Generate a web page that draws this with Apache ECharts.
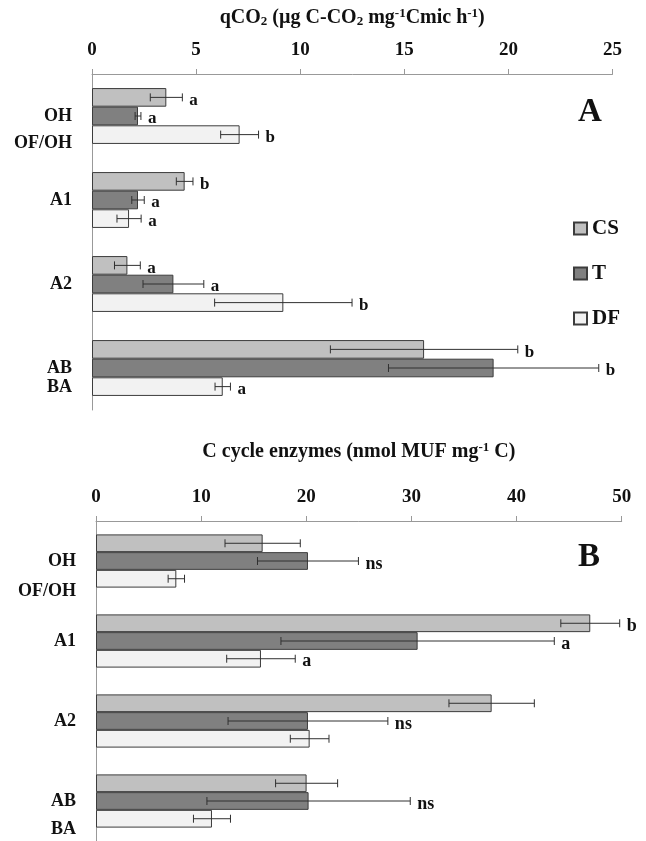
<!DOCTYPE html>
<html><head><meta charset="utf-8">
<script src="https://cdn.jsdelivr.net/npm/echarts@6/dist/echarts.min.js"></script>
<style>html,body{margin:0;padding:0;background:#fff}#c{width:646px;height:841px}</style>
</head><body><div id="c"></div>
<script>
// ---------- data ----------
const categories = ['OH\nOF/OH', 'A1', 'A2', 'AB\nBA'];
const seriesNames = ['CS', 'T', 'DF'];

// Panel A : qCO2
const qco2Ticks = [0, 5, 10, 15, 20, 25];
const qco2CS  = [3.57, 4.45, 1.70, 15.95];
const qco2CSErr = [0.77, 0.40, 0.62, 4.50];
const qco2CSLetters = ['a', 'b', 'a', 'b'];
const qco2T   = [2.21, 2.21, 3.91, 19.29];
const qco2TErr = [0.14, 0.30, 1.46, 5.05];
const qco2TLetters = ['a', 'a', 'a', 'b'];
const qco2DF  = [7.09, 1.78, 9.19, 6.28];
const qco2DFErr = [0.91, 0.58, 3.30, 0.37];
const qco2DFLetters = ['b', 'a', 'b', 'a'];

// Panel B : C cycle enzymes
const enzTicks = [0, 10, 20, 30, 40, 50];
const enzCS  = [15.85, 47.01, 37.63, 20.03];
const enzCSErr = [3.58, 2.80, 4.06, 2.95];
const enzCSLetters = ['', 'b', '', ''];
const enzT   = [20.16, 30.59, 20.16, 20.22];
const enzTErr = [4.80, 13.00, 7.60, 9.67];
const enzTLetters = ['ns', 'a', 'ns', 'ns'];
const enzDF  = [7.64, 15.69, 20.32, 11.03];
const enzDFErr = [0.78, 3.26, 1.84, 1.76];
const enzDFLetters = ['', 'a', '', ''];

// ---------- styling ----------
const FONT = 'Liberation Serif, Times New Roman, serif';
const colors = ['#c0c0c0', '#808080', '#f2f2f2'];
const GAP = 0.335;

const panels = [
  {vals: [qco2CS, qco2T, qco2DF], errs: [qco2CSErr, qco2TErr, qco2DFErr],
   letters: [qco2CSLetters, qco2TLetters, qco2DFLetters], ticks: qco2Ticks, letterSize: 17},
  {vals: [enzCS, enzT, enzDF], errs: [enzCSErr, enzTErr, enzDFErr],
   letters: [enzCSLetters, enzTLetters, enzDFLetters], ticks: enzTicks, letterSize: 18}
];

function errRender(sIdx, letters, fontSize) {
  return function (params, api) {
    const cat = api.value(0), val = api.value(1), err = api.value(2);
    const c = api.coord([val, cat]);
    const band = api.size([0, 1])[1];
    const total = band * (1 - GAP);
    const bw = total / 3;
    const y = c[1] - total / 2 + bw * (sIdx + 0.5);
    const x1 = api.coord([val - err, cat])[0];
    const x2 = api.coord([val + err, cat])[0];
    const h = 4;
    const ls = {stroke: '#303030', lineWidth: 1};
    const children = [
      {type: 'line', shape: {x1: x1, y1: y, x2: x2, y2: y}, style: ls},
      {type: 'line', shape: {x1: x1, y1: y - h, x2: x1, y2: y + h}, style: ls},
      {type: 'line', shape: {x1: x2, y1: y - h, x2: x2, y2: y + h}, style: ls}
    ];
    const t = letters[params.dataIndex];
    if (t) {
      children.push({type: 'text', style: {text: t, x: x2 + 7, y: y + 3, align: 'left', verticalAlign: 'middle',
        fontSize: fontSize, fontWeight: 'bold', fontFamily: FONT, fill: '#111'}});
    }
    return {type: 'group', children: children};
  };
}

// category label formatting (line spacing per panel / category)
const lineHeights = [[27, 0, 0, 19], [30, 0, 0, 28]];
function catFormatter(p) {
  return function (value, idx) {
    const lines = value.split('\n');
    if (lines.length === 1) return '{l0|' + lines[0] + '}';
    const lh = lineHeights[p][idx];
    const key = 'h' + lh;
    return '{' + key + '| }\n{' + key + '|' + lines[0] + '}\n{' + key + '|' + lines[1] + '}';
  };
}
const catRich = {l0: {fontSize: 18, fontWeight: 'bold', fontFamily: FONT, color: '#111'}};
[27, 19, 30, 28].forEach(function (lh) {
  catRich['h' + lh] = {fontSize: 18, fontWeight: 'bold', fontFamily: FONT, color: '#111', lineHeight: lh};
});

const titleRich = {
  n: {fontSize: 20, fontWeight: 'bold', fontFamily: FONT, color: '#111'},
  sub: {fontSize: 13, fontWeight: 'bold', fontFamily: FONT, color: '#111', verticalAlign: 'bottom', padding: [8, 0, 0, 0]},
  sup: {fontSize: 13, fontWeight: 'bold', fontFamily: FONT, color: '#111', verticalAlign: 'top', padding: [0, 0, 8, 0]}
};

const grids = [
  {left: 92, top: 74, width: 520.5, height: 336},
  {left: 96, top: 521, width: 525.7, height: 324}
];
const axisNames = [
  '{n|qCO}{sub|2}{n| (µg C-CO}{sub|2}{n| mg}{sup|-1}{n|Cmic h}{sup|-1}{n|)}',
  '{n|C cycle enzymes (nmol MUF mg}{sup|-1}{n| C)}'
];
const nameGaps = [46, 59];

const xAxis = [], yAxis = [], series = [];
panels.forEach(function (pn, p) {
  const tk = pn.ticks;
  xAxis.push({
    gridIndex: p, type: 'value', position: 'top',
    min: tk[0], max: tk[tk.length - 1], interval: tk[1] - tk[0],
    name: axisNames[p], nameLocation: 'middle', nameGap: nameGaps[p],
    nameTextStyle: {rich: titleRich},
    axisLine: {show: true, lineStyle: {color: '#999', width: 1}},
    axisTick: {show: true, length: 5, lineStyle: {color: '#999'}},
    splitLine: {show: false},
    axisLabel: {margin: 14, fontSize: 19, fontWeight: 'bold', fontFamily: FONT, color: '#111',
      formatter: function (v) { return String(v); }}
  });
  yAxis.push({
    gridIndex: p, type: 'category', data: categories, inverse: true,
    axisLine: {show: true, lineStyle: {color: '#999', width: 1}},
    axisTick: {show: false},
    axisLabel: {margin: 20, formatter: catFormatter(p), rich: catRich}
  });
  pn.vals.forEach(function (arr, s) {
    series.push({
      type: 'bar', name: seriesNames[s], xAxisIndex: p, yAxisIndex: p,
      data: arr, barGap: '0%', barCategoryGap: (GAP * 100) + '%',
      itemStyle: {color: colors[s], borderColor: '#3c3c3c', borderWidth: 1},
      emphasis: {disabled: true}, animation: false
    });
  });
  pn.vals.forEach(function (arr, s) {
    series.push({
      type: 'custom', name: 'err' + p + s, xAxisIndex: p, yAxisIndex: p,
      clip: false, z: 5, animation: false,
      encode: {x: 1, y: 0},
      data: arr.map(function (v, i) { return [i, v, pn.errs[s][i]]; }),
      renderItem: errRender(s, pn.letters[s], pn.letterSize)
    });
  });
});

const chart = echarts.init(document.getElementById('c'), null, {renderer: 'canvas'});
chart.setOption({
  backgroundColor: '#fff',
  animation: false,
  grid: grids,
  xAxis: xAxis,
  yAxis: yAxis,
  legend: {
    data: seriesNames, orient: 'vertical', left: 568, top: 213,
    itemWidth: 13, itemHeight: 12, itemGap: 24, icon: 'rect',
    textStyle: {fontSize: 21, fontWeight: 'bold', fontFamily: FONT, color: '#111', padding: [0, 0, 0, 0]}
  },
  graphic: [
    {type: 'text', left: 578, top: 96, style: {text: 'A', fontSize: 33, fontWeight: 'bold', fontFamily: FONT, fill: '#111'}},
    {type: 'text', left: 578, top: 541, style: {text: 'B', fontSize: 33, fontWeight: 'bold', fontFamily: FONT, fill: '#111'}}
  ],
  series: series
});
</script>
</body></html>
